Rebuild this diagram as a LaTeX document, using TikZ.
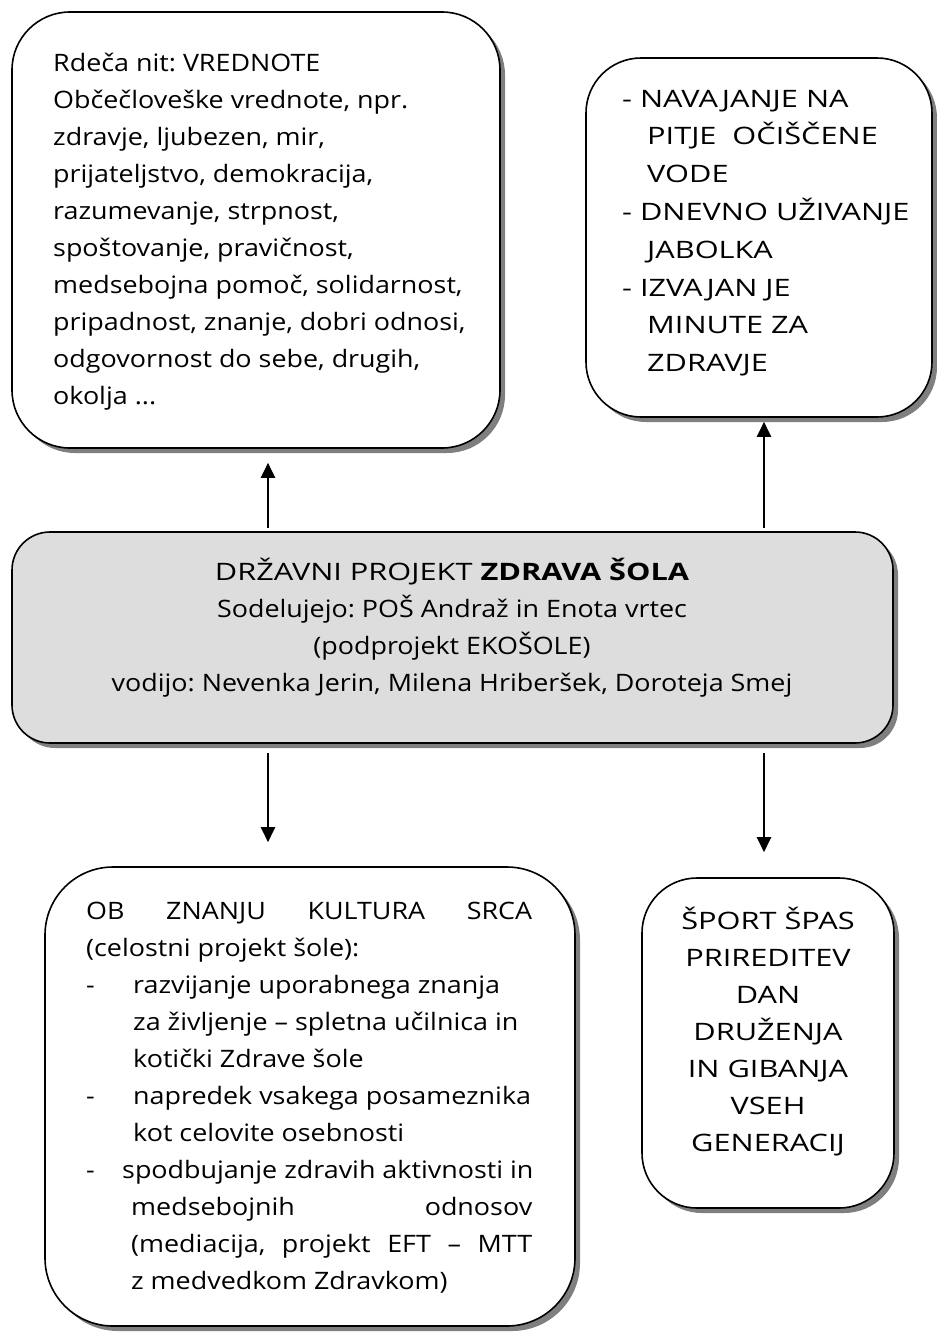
\documentclass[tikz,border=0pt]{standalone}
\usepackage{fontspec}
\setmainfont{Open Sans}
\newfontfamily\fwide[FakeStretch=1.12]{Open Sans}
\newfontfamily\fcaps[FakeStretch=1.28]{Open Sans}
\usetikzlibrary{arrows.meta,shadows,calc}
\definecolor{boxgray}{HTML}{DDDDDD}
\definecolor{shadowgray}{HTML}{7F7F7F}
\frenchspacing
\begin{document}
\begin{tikzpicture}[x=1pt,y=-1pt,
  rbox/.style={draw=black, line width=1.6pt, inner sep=0pt, rounded corners=#1,
    drop shadow={shadow xshift=5pt, shadow yshift=-5pt, fill=shadowgray, opacity=1}},
  txt/.style={inner sep=0pt, font=\fontsize{24pt}{37pt}\selectfont\fwide},
  capstxt/.style={inner sep=0pt, font=\fontsize{24pt}{37.8pt}\selectfont\fcaps},
  arr/.style={line width=2.2pt, -{Triangle[length=15pt,width=14pt]}}]
\useasboundingbox (0,0) rectangle (937,1334);

% boxes
\node[rbox=58pt, fill=white, minimum width=488pt, minimum height=436pt] (b1) at (256,230) {};
\node[rbox=55pt, fill=white, minimum width=346pt, minimum height=359pt] (b2) at (759,237.5) {};
\node[rbox=38pt, fill=boxgray, minimum width=881pt, minimum height=211pt] (c) at (452.5,637.5) {};
\node[rbox=68pt, fill=white, minimum width=530pt, minimum height=459pt] (b3) at (310,1096.5) {};
\node[rbox=55pt, fill=white, minimum width=252pt, minimum height=330pt] (b4) at (768,1043) {};

% texts
\node[txt, align=left, anchor=west] (t1) at (53,232) {Rdeča nit: VREDNOTE\\
Občečloveške vrednote, npr.\\
zdravje, ljubezen, mir,\\
prijateljstvo, demokracija,\\
razumevanje, strpnost,\\
spoštovanje, pravičnost,\\
medsebojna pomoč, solidarnost,\\
pripadnost, znanje, dobri odnosi,\\
odgovornost do sebe, drugih,\\
okolja ...};

\node[capstxt, align=left, anchor=west] (t2) at (622,233) {- NAVAJANJE NA\\
\hspace*{25pt}PITJE\ \ OČIŠČENE\\
\hspace*{25pt}VODE\\
- DNEVNO UŽIVANJE\\
\hspace*{25pt}JABOLKA\\
- IZVAJAN JE\\
\hspace*{25pt}MINUTE ZA\\
\hspace*{25pt}ZDRAVJE};

\node[txt, align=center] (tc) at (452,628) {{\fcaps DRŽAVNI PROJEKT \textbf{ZDRAVA ŠOLA}}\\
Sodelujejo: POŠ Andraž in Enota vrtec\\
(podprojekt EKOŠOLE)\\
vodijo: Nevenka Jerin, Milena Hriberšek, Doroteja Smej};

\node[txt, align=left, anchor=west] (t3) at (86,1098) {\makebox[446pt][s]{OB\hfill ZNANJU\hfill KULTURA\hfill SRCA}\\
(celostni projekt šole):\\
\makebox[47pt][l]{-}razvijanje uporabnega znanja\\
\hspace*{47pt}za življenje – spletna učilnica in\\
\hspace*{47pt}kotički Zdrave šole\\
\makebox[47pt][l]{-}napredek vsakega posameznika\\
\hspace*{47pt}kot celovite osebnosti\\
\makebox[36pt][l]{-}spodbujanje zdravih aktivnosti in\\
\hspace*{45pt}\makebox[401pt][s]{medsebojnih\hfill odnosov}\\
\hspace*{45pt}\makebox[401pt][s]{(mediacija, projekt EFT – MTT}\\
\hspace*{45pt}z medvedkom Zdravkom)};

\node[capstxt, align=center, font=\fontsize{24pt}{37pt}\selectfont\fcaps] (t4) at (768,1032) {ŠPORT ŠPAS\\
PRIREDITEV\\
DAN\\
DRUŽENJA\\
IN GIBANJA\\
VSEH\\
GENERACIJ};

% connectors
\coordinate (xl) at (268,0);
\coordinate (xr) at (764,0);
\draw[arr, shorten <=3pt, shorten >=14pt] (xl |- c.north) -- (xl |- b1.south);
\draw[arr, shorten <=3pt, shorten >=4pt] (xr |- c.north) -- (xr |- b2.south);
\draw[arr, shorten <=9pt, shorten >=24pt] (xl |- c.south) -- (xl |- b3.north);
\draw[arr, shorten <=9pt, shorten >=25pt] (xr |- c.south) -- (xr |- b4.north);
\end{tikzpicture}
\end{document}
